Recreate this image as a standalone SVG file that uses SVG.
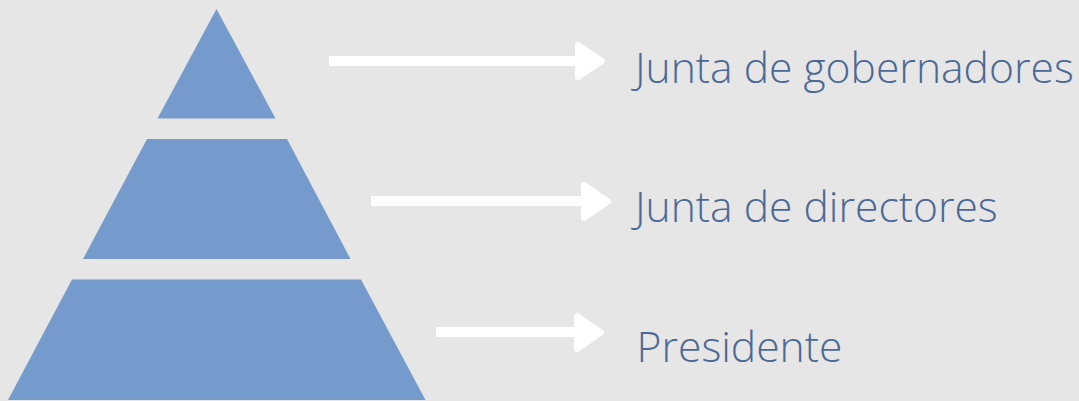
<svg xmlns="http://www.w3.org/2000/svg" width="1079" height="401" viewBox="0 0 1079 401">
<style>
.tier{fill:#759bcd}
.shaft{fill:#ffffff}
.head{fill:#ffffff;stroke:#ffffff;stroke-width:6;stroke-linejoin:round}
.lbl{font-family:"Open Sans","Noto Sans",sans-serif;font-weight:300;font-size:42.6px;fill:#4a6997}
</style>
<rect width="1079" height="401" fill="#e6e6e6"/>
<g id="tier-top"><polygon class="tier" points="216.5,9 275.5,118.5 157.5,118.5"/></g>
<g id="tier-middle"><polygon class="tier" points="147,139 287,139 350.5,259 83,259"/></g>
<g id="tier-bottom"><polygon class="tier" points="72,279.5 361,279.5 425.5,400 8,400"/></g>
<g id="connectors">
<rect class="shaft" x="329" y="56" width="250" height="10"/>
<polygon class="head" points="578,45 578,77 602,61"/>
<rect class="shaft" x="371" y="196" width="213" height="10"/>
<polygon class="head" points="584,185 584,218 608,201.5"/>
<rect class="shaft" x="436" y="327" width="141" height="10"/>
<polygon class="head" points="577,316 577,349 601,332.5"/>
</g>
<g id="label-gobernadores"><text class="lbl" x="635" y="83">Junta de gobernadores</text></g>
<g id="label-directores"><text class="lbl" x="635" y="222">Junta de directores</text></g>
<g id="label-presidente"><text class="lbl" x="636.5" y="362">Presidente</text></g>
</svg>
